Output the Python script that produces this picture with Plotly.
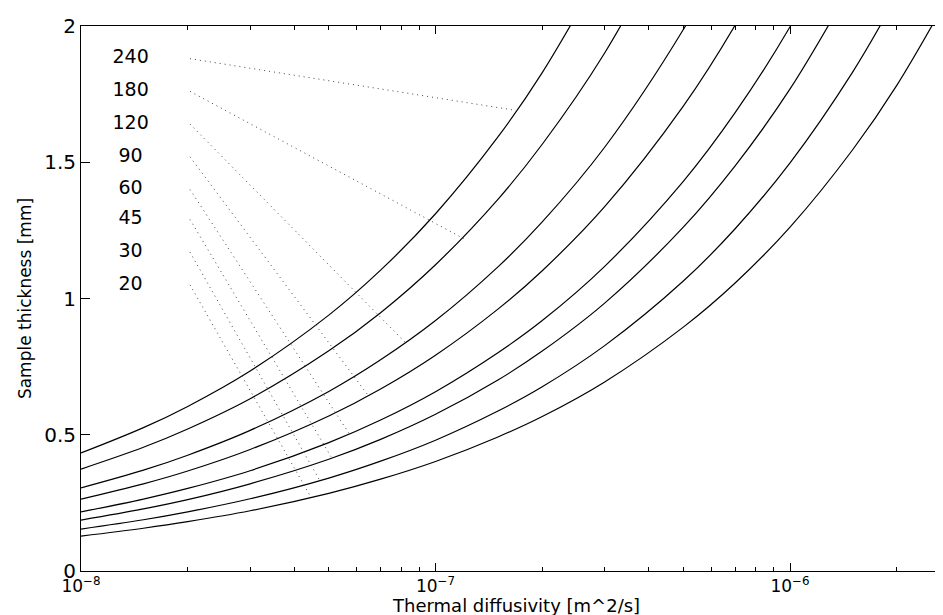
import plotly.graph_objects as go

# ---- data ----
times = [240, 180, 120, 90, 60, 45, 30, 20]          # curve labels
alpha = [1e-8, 1.5e-8, 2e-8, 3e-8, 5e-8, 7e-8, 1e-7, 1.5e-7, 2e-7,
         3e-7, 5e-7, 7e-7, 1e-6, 1.5e-6, 2e-6, 3e-6]   # thermal diffusivity [m^2/s]

thk_240 = [0.433, 0.526, 0.604, 0.734, 0.939, 1.104, 1.311, 1.593, 1.829, 2.223]
thk_180 = [0.374, 0.454, 0.521, 0.632, 0.808, 0.948, 1.124, 1.364, 1.566, 1.901, 2.426]
thk_120 = [0.305, 0.370, 0.425, 0.516, 0.659, 0.775, 0.919, 1.116, 1.281, 1.555, 1.987, 2.334]
thk_90 = [0.264, 0.320, 0.367, 0.446, 0.569, 0.668, 0.792, 0.961, 1.102, 1.337, 1.706, 2.003, 2.375]
thk_60 = [0.217, 0.264, 0.303, 0.368, 0.471, 0.554, 0.658, 0.801, 0.919, 1.118, 1.430, 1.682, 1.997, 2.428]
thk_45 = [0.187, 0.228, 0.262, 0.320, 0.410, 0.483, 0.575, 0.701, 0.807, 0.983, 1.262, 1.487, 1.769, 2.156]
thk_30 = [0.154, 0.188, 0.217, 0.265, 0.341, 0.403, 0.480, 0.587, 0.676, 0.827, 1.064, 1.256, 1.498, 1.830, 2.110]
thk_20 = [0.128, 0.157, 0.181, 0.221, 0.285, 0.337, 0.402, 0.492, 0.567, 0.694, 0.895, 1.057, 1.262, 1.545, 1.782, 2.179]
thickness = [thk_240, thk_180, thk_120, thk_90, thk_60, thk_45, thk_30, thk_20]

# label texts and leader lines (label -> point on its curve)
label_alpha = 1.38e-8
label_thk = [1.88, 1.76, 1.64, 1.52, 1.40, 1.29, 1.17, 1.05]
leader_start_alpha = 2.03e-8
leader_end_alpha = [1.69e-7, 1.2e-7, 8.2e-8, 6.45e-8, 5.7e-8, 5.07e-8, 4.72e-8, 4.46e-8]
leader_end_thk = [1.69, 1.22, 0.84, 0.645, 0.505, 0.42, 0.331, 0.269]

x_tick_vals = [1e-8, 1e-7, 1e-6]
x_tick_text = ["10<sup>−8</sup>", "10<sup>−7</sup>", "10<sup>−6</sup>"]
y_tick_vals = [0, 0.5, 1, 1.5, 2]
x_title = "Thermal diffusivity [m^2/s]"
y_title = "Sample thickness [mm]"

FONT = "DejaVu Sans"

fig = go.Figure()

for t, thk in zip(times, thickness):
    fig.add_trace(go.Scatter(
        x=alpha[:len(thk)], y=thk, mode="lines",
        line=dict(color="black", width=1.2, shape="spline", smoothing=1.0),
        name=str(t), hoverinfo="skip", showlegend=False))

for ls, le_a, le_t in zip(label_thk, leader_end_alpha, leader_end_thk):
    fig.add_trace(go.Scatter(
        x=[leader_start_alpha, le_a], y=[ls, le_t], mode="lines",
        line=dict(color="#444444", width=1, dash="1px,4px"),
        hoverinfo="skip", showlegend=False))

fig.add_trace(go.Scatter(
    x=[label_alpha] * len(times), y=label_thk, mode="text",
    text=[str(t) for t in times], textposition="middle center",
    textfont=dict(family=FONT, size=19, color="black"),
    hoverinfo="skip", showlegend=False))

fig.update_layout(
    width=943, height=615,
    margin=dict(l=73, r=0, t=18, b=52),
    paper_bgcolor="white", plot_bgcolor="white",
    font=dict(family=FONT, color="black"),
    annotations=[dict(
        text=x_title, xref="paper", yref="paper", x=0.5, y=-0.085,
        xanchor="center", yanchor="bottom", showarrow=False, borderpad=0,
        font=dict(family=FONT, size=18, color="black"))],
)

fig.update_xaxes(
    type="log", range=[-8, -5.546],
    tickmode="array", tickvals=x_tick_vals, ticktext=x_tick_text,
    tickfont=dict(family=FONT, size=17, color="black"),
    ticks="inside", ticklen=8, tickcolor="black", tickwidth=1,
    minor=dict(ticks="inside", ticklen=4, tickcolor="black", dtick="D1", showgrid=False),
    showline=True, linecolor="black", linewidth=1, mirror="ticks",
    showgrid=False, zeroline=False,
    automargin=False,
)
fig.update_yaxes(
    range=[0, 2], tickmode="array", tickvals=y_tick_vals,
    tickfont=dict(family=FONT, size=20, color="black"),
    ticks="inside", ticklen=9, tickcolor="black", tickwidth=1,
    showline=True, linecolor="black", linewidth=1,
    showgrid=False, zeroline=False,
    title=dict(text=y_title, font=dict(family=FONT, size=17, color="black"), standoff=8),
    automargin=False,
)

fig.write_html("out.html")
